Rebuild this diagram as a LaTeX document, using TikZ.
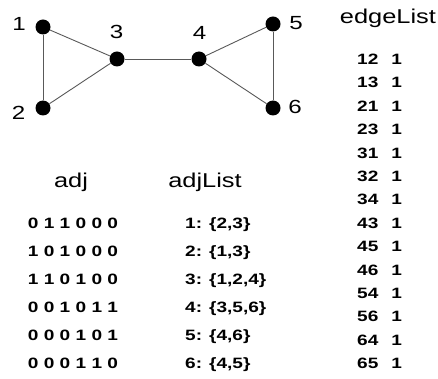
\documentclass[tikz,border=0pt]{standalone}
\usepackage{fontspec}
\newfontfamily\wsans[FakeStretch=1.27]{Liberation Sans}
\begin{document}
\begin{tikzpicture}[x=1pt,y=-1pt,
  vertex/.style={circle,fill=black,inner sep=0pt,minimum size=15pt},
  link/.style={draw=black!65,line width=0.9pt},
  vlabel/.style={font=\wsans\fontsize{19}{19}\selectfont,inner sep=0pt},
  heading/.style={font=\wsans\fontsize{20}{20}\selectfont,inner sep=0pt,anchor=base},
  datum/.style={font=\wsans\bfseries\fontsize{15}{15}\selectfont,inner sep=0pt}]
\useasboundingbox (0,0) rectangle (438,379);

% graph vertices
\node[vertex] (n1) at (43,27) {};
\node[vertex] (n2) at (43,108) {};
\node[vertex] (n3) at (117,59) {};
\node[vertex] (n4) at (199,59) {};
\node[vertex] (n5) at (273,24) {};
\node[vertex] (n6) at (273,108) {};

% vertex numbers
\node[vlabel] (l1) at (19,23.5) {1};
\node[vlabel] (l2) at (18.5,113) {2};
\node[vlabel] (l3) at (116.5,32) {3};
\node[vlabel] (l4) at (199.5,33) {4};
\node[vlabel] (l5) at (296,23) {5};
\node[vlabel] (l6) at (295,107) {6};

% edges
\draw[link] (n1) -- (n2);
\draw[link] (n1) -- (n3);
\draw[link] (n2) -- (n3);
\draw[link] (n3) -- (n4);
\draw[link] (n4) -- (n5);
\draw[link] (n4) -- (n6);
\draw[link] (n5) -- (n6);

% headings
\node[heading] (hadj) at (71,187) {adj};
\node[heading] (hlist) at (205,187) {adjList};
\node[heading] (hedge) at (388,24) {edgeList};

% adjacency matrix
\foreach \row [count=\i from 0] in {0 1 1 0 0 0,1 0 1 0 0 0,1 1 0 1 0 0,0 0 1 0 1 1,0 0 0 1 0 1,0 0 0 1 1 0}
  \node[datum,anchor=base] (m\i) at (73,228.5+28*\i) {\row};

% adjacency lists
\node[datum,anchor=base west] (a1) at (185,228.5) {1: \{2,3\}};
\node[datum,anchor=base west] (a2) at (185,256.5) {2: \{1,3\}};
\node[datum,anchor=base west] (a3) at (185,284.5) {3: \{1,2,4\}};
\node[datum,anchor=base west] (a4) at (185,312.5) {4: \{3,5,6\}};
\node[datum,anchor=base west] (a5) at (185,340.5) {5: \{4,6\}};
\node[datum,anchor=base west] (a6) at (185,368.5) {6: \{4,5\}};

% edge list
\foreach \a/\b [count=\i from 0] in {12/1,13/1,21/1,23/1,31/1,32/1,34/1,43/1,45/1,46/1,54/1,56/1,64/1,65/1}
  \node[datum,anchor=base west] (e\i) at (357,64.5+23.4*\i) {\a\hspace{13pt}\b};
\end{tikzpicture}
\end{document}
